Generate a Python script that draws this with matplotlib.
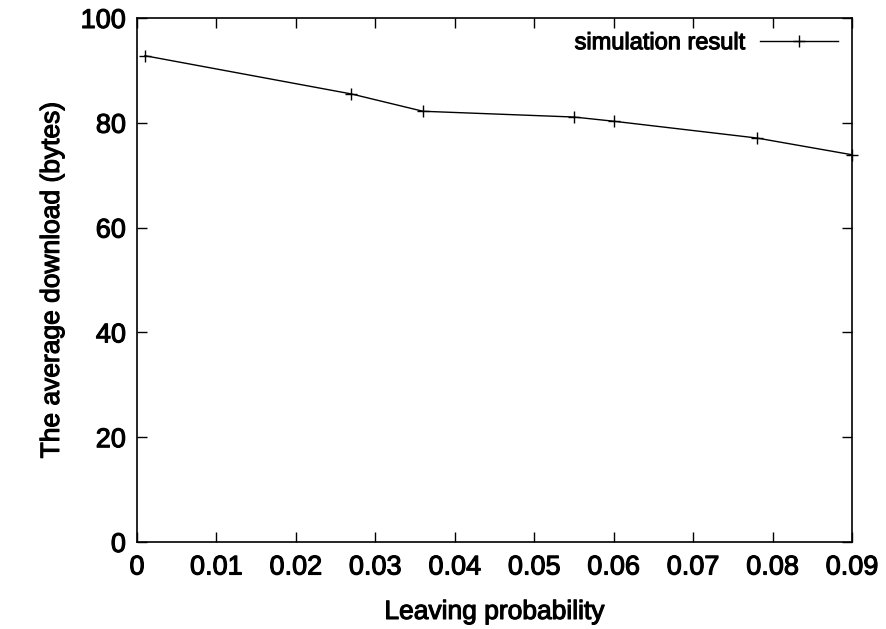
import matplotlib
matplotlib.use("Agg")
import matplotlib.pyplot as plt
import matplotlib.patheffects as pe

# Data
leave_prob = [0.001, 0.027, 0.036, 0.055, 0.060, 0.078, 0.090]
avg_download = [92.8, 85.5, 82.2, 81.1, 80.3, 77.1, 73.9]

x_ticks = [0, 0.01, 0.02, 0.03, 0.04, 0.05, 0.06, 0.07, 0.08, 0.09]
x_labels = ["0", "0.01", "0.02", "0.03", "0.04", "0.05", "0.06", "0.07", "0.08", "0.09"]
y_ticks = [0, 20, 40, 60, 80, 100]

plt.rcParams["font.family"] = ["Liberation Sans", "DejaVu Sans"]
heavy = [pe.withStroke(linewidth=0.8, foreground="black")]

fig = plt.figure(figsize=(8.86, 6.29), dpi=100)
ax = fig.add_axes([0.1546, 0.1383, 0.8070, 0.8331])

ax.plot(leave_prob, avg_download, color="black", lw=1.0, marker="+",
        markersize=8, markeredgewidth=1.0, label="simulation result",
        clip_on=False)

ax.set_xlim(0, 0.09)
ax.set_ylim(0, 100)
ax.set_xticks(x_ticks)
ax.set_xticklabels(x_labels)
ax.set_yticks(y_ticks)
ax.tick_params(direction="in", length=7, width=1.0, top=True, right=True,
               labelsize=19.5)
ax.tick_params(axis="x", pad=9)
ax.tick_params(axis="y", pad=8)
for lab in ax.get_xticklabels() + ax.get_yticklabels():
    lab.set_path_effects(heavy)
for s in ax.spines.values():
    s.set_linewidth(1.2)

ax.set_xlabel("Leaving probability", fontsize=19, labelpad=14, path_effects=heavy)
ax.set_ylabel("The average download (bytes)", fontsize=19, labelpad=12, path_effects=heavy)

leg = ax.legend(loc="upper right", frameon=False, markerfirst=False,
                fontsize=17, handlelength=3.3, borderaxespad=0.2,
                handletextpad=0.6)
for t in leg.get_texts():
    t.set_path_effects(heavy)

fig.savefig("out.png", dpi=100)
